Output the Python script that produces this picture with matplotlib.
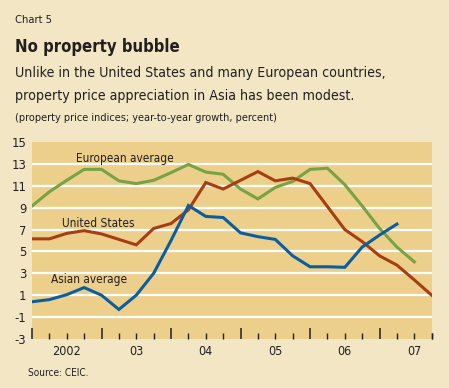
import matplotlib
matplotlib.use("Agg")
import matplotlib.pyplot as plt
from matplotlib.ticker import FixedLocator, NullFormatter
import numpy as np

# quarterly data, starting 2002 Q1
start_year = 2002
asian = [0.4, 0.6, 1.05, 1.7, 1.0, -0.3, 1.0, 3.0, 6.0, 9.2, 8.2, 8.1,
         6.7, 6.35, 6.1, 4.6, 3.6, 3.6, 3.55, 5.4, 6.5, 7.5]
european = [9.15, 10.45, 11.5, 12.5, 12.5, 11.45, 11.2, 11.5, 12.2, 12.95, 12.25, 12.05,
            10.7, 9.8, 10.85, 11.4, 12.5, 12.6, 11.1, 9.15, 7.1, 5.4, 4.05]
united_states = [6.15, 6.15, 6.65, 6.9, 6.6, 6.1, 5.6, 7.1, 7.55, 8.8, 11.3, 10.7,
                 11.5, 12.3, 11.45, 11.7, 11.2, 9.1, 7.0, 5.9, 4.6, 3.75, 2.4, 1.0]
year_labels = ["2002", "03", "04", "05", "06", "07"]
y_ticks = [-3, -1, 1, 3, 5, 7, 9, 11, 13, 15]

FIG_BG = "#f2e6c5"
AX_BG = "#eccf8a"
BLUE = "#0a5e9f"
RED = "#a83c14"
GREEN = "#76a344"
TXT = "#231f20"

plt.rcParams['font.family'] = ['DejaVu Sans']
plt.rcParams['font.stretch'] = 'condensed'

fig = plt.figure(figsize=(4.49, 3.88), dpi=100, facecolor=FIG_BG)
ax = fig.add_axes([32/449, 1-339/388, (431.7-32)/449, (339-142)/388])
ax.set_facecolor(AX_BG)

def qx(series):
    return [start_year + i/4 for i in range(len(series))]

for yv in y_ticks[1:-1]:
    ax.axhline(yv, color="white", lw=1.6, zorder=1)

ax.plot(qx(european), european, color=GREEN, lw=2.2, zorder=3, solid_joinstyle='miter')
ax.plot(qx(united_states), united_states, color=RED, lw=2.2, zorder=3, solid_joinstyle='miter')
ax.plot(qx(asian), asian, color=BLUE, lw=2.2, zorder=4, solid_joinstyle='miter')

ax.set_xlim(2002, 2007.75)
ax.set_ylim(-3, 15)

for s in ax.spines.values():
    s.set_visible(False)

ax.set_yticks(y_ticks)
ax.set_yticklabels([str(v) for v in y_ticks], fontsize=9.3, color=TXT)
ax.tick_params(axis='y', length=0, pad=4)

years = list(range(start_year, start_year + len(year_labels)))
ax.xaxis.set_major_locator(FixedLocator(years))
ax.xaxis.set_major_formatter(NullFormatter())
ax.xaxis.set_minor_locator(FixedLocator([y + q/4 for y in years for q in range(4)] + [2007.75]))
ax.tick_params(axis='x', which='major', direction='in', length=8, width=1.1, color=TXT)
ax.tick_params(axis='x', which='minor', direction='in', length=4, width=1.0, color=TXT)
for y, lab in zip(years, year_labels):
    ax.text(y + 0.5, -4.1, lab, ha='center', va='center', fontsize=9, color=TXT)

ax.text(2002.635, 13.45, "European average", fontsize=8.5, color=TXT, ha='left', va='center')
ax.text(2002.43, 7.57, "United States", fontsize=8.5, color=TXT, ha='left', va='center')
ax.text(2002.27, 2.43, "Asian average", fontsize=8.5, color=TXT, ha='left', va='center')

fig.text(15/449, 1-20/388, "Chart 5", fontsize=8, color=TXT, ha='left', va='center')
fig.text(15/449, 1-47/388, "No property bubble", fontsize=12, fontweight='bold', color=TXT, ha='left', va='center')
fig.text(15/449, 1-73/388, "Unlike in the United States and many European countries,", fontsize=10.2, color=TXT, ha='left', va='center')
fig.text(15/449, 1-96/388, "property price appreciation in Asia has been modest.", fontsize=10.2, color=TXT, ha='left', va='center')
fig.text(15/449, 1-118/388, "(property price indices; year-to-year growth, percent)", fontsize=7.8, color=TXT, ha='left', va='center')
fig.text(28/449, 1-373/388, "Source: CEIC.", fontsize=7.2, color=TXT, ha='left', va='center')

fig.savefig("out.png", dpi=100, facecolor=FIG_BG)
